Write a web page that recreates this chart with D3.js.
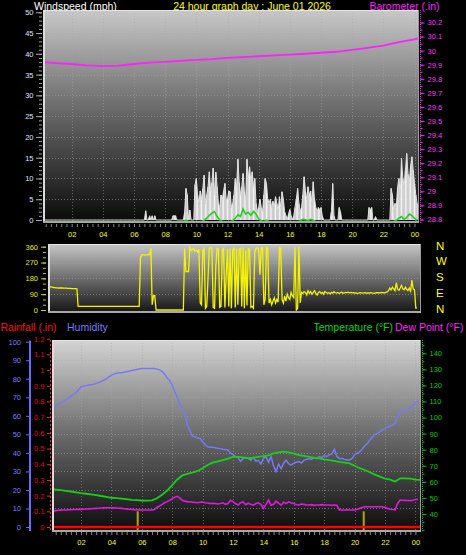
<!DOCTYPE html>
<html><head><meta charset="utf-8">
<script src="https://cdn.jsdelivr.net/npm/d3@7"></script>
<style>
html,body{margin:0;padding:0;background:#000;}
svg{display:block;}
</style></head><body>
<svg id="chart" width="466" height="555"></svg>
<script>
// ---------------- DATA ----------------
const hourTicks  = [2,4,6,8,10,12,14,16,18,20,22,24];
const hourLabels = ["02","04","06","08","10","12","14","16","18","20","22","00"];
const compassDeg = [0,90,180,270,360];
const compassLabels = ["N","E","S","W","N"];

// Barometer (in) read at hours
const baroHours  = [0,1,2,3,4,5,6,7,8,9,10,11,12,13,14,15,16,17,18,19,20,21,22,23,24,24.3];
const baroValues = [29.92,29.912,29.905,29.895,29.89,29.893,29.905,29.915,29.92,29.928,29.935,29.94,29.948,29.954,29.96,29.966,29.972,29.978,29.985,29.992,30.005,30.02,30.035,30.06,30.08,30.09];

// Wind gust (mph), one row per hour, 5-minute samples
const gustRows = [
 [0,0,0,0,0,0,0,0,0,0,0,0],
 [0,0,0,0,0,0,0,0,0,0,0,0],
 [0,0,0,0,0,0,0,0,0,0,0,0],
 [0,0,0,0,0,0,0,0,0,0,0,0],
 [0,0,0,0,0,0,0,0,0,0,0,0],
 [0,0,0,0,0,0,0,0,0,0,0,0],
 [0,0,0,0,0,0,0,0,0,2.2,0,0],
 [1,0,1,0,1,0,0,0,0,0,0,0],
 [0,0,0,0,0,0,1,1,1,0,0,0],
 [0,0,0,2,7.6,6,0,2.4,0,0,0,8.5],
 [10,6,4,7,5,7.6,10.8,4,6,8,11.6,7],
 [9,12.5,6,11.5,8,4,3,6,5,7,8.8,5],
 [5,7,6.8,3,4,6,10,8,14.6,9,6,8],
 [11.2,7,5,14.6,10,12.8,9,11.6,8,10,4,2],
 [3,5,3,2,6,10,8.8,5,4,5,3,4.5],
 [3,5.6,4,2,5.6,3,6.8,5,2,1,0,1.5],
 [2.5,1,0,1,3,5,7.6,4,2,3,6,10.4],
 [7,5,8,6,7,4,9.2,5,3,2,3,2.5],
 [3,1,0,0,0,0,0,0,2,8.8,1,0],
 [0,0,3,2,0,0,0,0,0,0,0,0],
 [0,0,0,0,0,0,0,0,0,0,0,0],
 [0,3,2.5,3,0,0,0.8,0,0,0,0,0],
 [0,0,0,0,0,0,7.6,6,2,4,3,8],
 [10,6,14.8,10,8,12,16,11,9,13,15.2,12],
 [9,6,4,0]
];
// Average wind speed (mph), one row per hour, 10-minute samples
const avgRows = [
 [0,0,0,0,0,0],[0,0,0,0,0,0],[0,0,0,0,0,0],[0,0,0,0,0,0],[0,0,0,0,0,0],
 [0,0,0,0,0,0],[0,0,0,0,0,0],[0,0,0,0,0,0],[0,0,0,0,0,0],
 [0,0,0.3,0,0,0],
 [0,0,0,0.3,0.8,1.5],
 [2,2.4,1.2,0.4,0,0],
 [0,0,0.2,0.8,1.6,1.2],
 [3,1.8,2.2,1.5,2.4,1.8],
 [0.6,0.2,0,0.3,0,0],
 [0,0,0,0,0,0],
 [0,0,0,0,0.2,0.5],
 [0.4,0.2,0.5,0.3,0,0],
 [0,0,0,0,0,0],[0,0,0,0,0,0],[0,0,0,0,0,0],[0,0,0,0,0,0],
 [0,0,0,0,0,0.3],
 [0.8,1.2,0.5,1.0,1.8,1.4],
 [0.8,0.3]
];
// Wind direction (deg), one row per hour, 5-minute samples
const dirRows = [
 [134,134,134,134,134,134,134,132,131,130,128,127],
 [126,126,125,125,125,125,124,124,124,123,123,123],
 [122,122,121,121,120,21,21,21,21,21,21,21],
 [21,21,21,21,21,21,21,21,21,21,21,21],
 [21,21,21,21,21,21,21,21,21,21,21,21],
 [21,21,21,21,21,21,21,21,21,21,21,21],
 [21,21,21,21,21,300,313,313,313,313,313,315],
 [315,351,30,81,81,0,0,0,0,0,0,0],
 [0,0,0,0,0,0,0,0,0,0,0,0],
 [0,0,0,350,219,219,219,355,340,345,350,335],
 [340,330,345,40,30,340,350,10,20,180,350,355],
 [350,15,10,250,350,345,15,20,340,350,15,200],
 [345,20,350,10,340,355,15,350,30,345,350,20],
 [355,10,340,25,350,345,15,20,10,330,350,355],
 [345,200,350,355,30,60,355,350,40,60,30,50],
 [70,40,60,45,355,350,60,40,80,50,90,70],
 [60,100,80,70,355,0,10,360,40,100,95,105],
 [100,85,110,95,105,90,100,110,95,85,100,105],
 [95,100,90,105,100,95,98,92,100,96,104,98],
 [96,100,94,98,102,95,97,100,99,101,98,100],
 [97,98,96,97,95,96,98,97,96,97,98,96],
 [97,96,98,97,96,95,97,98,99,97,98,100],
 [98,97,100,103,110,125,115,130,120,110,155,118],
 [112,125,140,120,115,130,118,110,125,108,170,120],
 [115,11,11]
];
// Humidity (%), one row per hour, 10-minute samples
const humRows = [
 [63.6,64.5,65.5,66.3,67,67.8],
 [68.5,69.5,70.5,71.5,72.5,74],
 [75.7,76,76.3,76.6,76.8,77],
 [77.5,78,78.5,79.2,80,81],
 [82,82.5,83,83.2,83.3,83.5],
 [83.8,84.1,84.4,84.7,85,85.3],
 [85.6,85.6,85.6,85.6,85.6,85.6],
 [85.2,84.8,84,82.5,80.5,79],
 [76.5,73,70,66.7,63,61],
 [55.5,52,49,48.7,48,47.9],
 [46,44.5,43.3,43,43,42.8],
 [42.5,42.3,42,41.8,41.6,40],
 [39,38,37.5,35.5,37,37.5],
 [37.1,36,37.5,35.5,36,34],
 [37,38,35,38,33,30],
 [34,31.5,34.4,36,34,33.5],
 [34.4,35,35.3,34.5,36,36.5],
 [37,36.5,37.5,37,38,37.5],
 [38.5,38,38.9,39.5,42,38],
 [37,37,36.5,36.2,36.2,37],
 [39,39.8,40.5,42,44,45],
 [47,48.5,50,50.5,51.5,52.5],
 [53.2,54,54.5,55,56,59.5],
 [62,62.5,63,63.5,64,65.5],
 [67.3,67.7]
];
// Temperature (F), one row per hour, 20-minute samples
const tempRows = [
 [55.6,55.2,54.8],[54.4,54,53.5],[53,52.6,52.2],[51.8,51.2,50.7],[50.1,49.9,49.6],
 [49.2,48.8,48.6],[48.4,48.3,48.5],[49.8,52,54.5],[58,61.5,64],[65,65.8,66.8],
 [68.5,70.5,72],[72.7,73.5,74.5],[75.5,75.5,75.2],[74.7,75,75.5],[76,76.5,77.8],
 [78.3,78.8,78.4],[77.5,76.7,76.2],[75.5,75,74.6],[74,73.5,73.1],[72.5,72,71.5],
 [70,68.5,67.4],[66,64.5,63.3],[62,61.4,60.2],[62.2,62.2,62],[61.4,61.2]
];
// Dew point (F), one row per hour, 10-minute samples
const dewRows = [
 [42,42.1,42.1,42.3,42.4,42.5],
 [42.5,42.6,42.6,42.8,42.8,42.9],
 [42.9,43,43.1,43.2,43.3,43.4],
 [43.5,43.6,43.7,43.8,43.9,43.9],
 [43.9,43.8,43.7,43.6,43.5,43.3],
 [43.2,43,42.9,42.7,42.6,42.5],
 [42.5,42.5,42.5,42.5,42.5,42.8],
 [44.2,45,46,47,47.7,48.5],
 [49.5,50.5,51,50,48.5,48],
 [47.7,47.5,47.4,47.2,47,47.3],
 [47.5,47,46.8,46.5,46.7,46.5],
 [46.2,46.5,47,46,46.5,48.5],
 [47.7,46.5,45.6,47,47.5,45.8],
 [46.7,46,45.5,46.5,47,46],
 [43.5,46,48.7,45.5,46,48],
 [46.7,45.5,47.5,46.5,47.7,46.8],
 [46.5,45.8,45.6,46.2,46,45.6],
 [45.6,45.8,45.4,45.6,45.6,45.8],
 [45.6,45.6,45.6,45.4,45.6,45.5],
 [42.5,42.5,42.5,42.6,42.5,42.5],
 [42.5,43,43.5,44,44.5,44.5],
 [44.5,44.5,44.5,44.5,44.5,44.5],
 [44,43.5,43,42.8,42.6,46.7],
 [48.7,48.6,48.5,48.4,48.3,48.6],
 [49,49.2]
];
// Rainfall (in)
const rainHours  = [0,24.4];
const rainValues = [0,0];
// sunrise / sunset markers (hours)
const sunEvents = [5.73, 20.6];
const sunMarkLevel = 0.1;

// ---------------- HELPERS ----------------
function flatten(rows, perHour){ const out=[]; rows.forEach((r,h)=>r.forEach((v,k)=>out.push({t:h+k/perHour,v:v}))); return out; }
const gust = flatten(gustRows,12), avg = flatten(avgRows,6), dir = flatten(dirRows,12);
const hum = flatten(humRows,6), temp = flatten(tempRows,3), dew = flatten(dewRows,6);
const baro = baroHours.map((t,i)=>({t:t,v:baroValues[i]}));
const rain = rainHours.map((t,i)=>({t:t,v:rainValues[i]}));

const FONT = "'Liberation Sans', Arial, sans-serif";
const svg = d3.select("#chart");
const defs = svg.append("defs");

const P1 = {x0:43, x1:419, y0:10, y1:222};
const P2 = {x0:48, x1:421, y0:244, y1:312};
const P3 = {x0:52, x1:421, y0:340, y1:531};

const xTop = d3.scaleLinear().domain([0,24]).range([40.5,414.5]);
const xBot = d3.scaleLinear().domain([0,24]).range([50.6,415.4]);
const yWind = d3.scaleLinear().domain([0,50]).range([220,12.3]);
const yBaro = d3.scaleLinear().domain([28.8,30.2]).range([219.5,22.5]);
const yDir  = d3.scaleLinear().domain([0,360]).range([310,246.7]);
const yHum  = d3.scaleLinear().domain([0,100]).range([527,341.7]);
const yRain = d3.scaleLinear().domain([0,1.2]).range([527,338.7]);
const yTemp = d3.scaleLinear().domain([40,140]).range([514,353.3]);

function grad(id, stops){
  const g = defs.append("linearGradient").attr("id",id).attr("x1",0).attr("y1",0).attr("x2",0).attr("y2",1);
  stops.forEach(s=>g.append("stop").attr("offset",s[0]).attr("stop-color",s[1]));
}
grad("gTop",[[0,"#c8c8c8"],[0.5,"#646464"],[1,"#0a0a0a"]]);
grad("gMid",[[0,"#c6c6c6"],[1,"#161616"]]);
grad("gBot",[[0,"#d4d4d4"],[0.5,"#6a6a6a"],[1,"#0c0c0c"]]);

function panel(id,p,g){
  defs.append("clipPath").attr("id",id).append("rect")
    .attr("x",p.x0).attr("y",p.y0).attr("width",p.x1-p.x0).attr("height",p.y1-p.y0);
  svg.append("rect").attr("x",p.x0).attr("y",p.y0).attr("width",p.x1-p.x0).attr("height",p.y1-p.y0)
    .attr("fill",`url(#${g})`);
  return svg.append("g").attr("clip-path",`url(#${id})`);
}
function frame(p){
  svg.append("line").attr("x1",p.x0).attr("x2",p.x1).attr("y1",p.y0+0.5).attr("y2",p.y0+0.5).attr("stroke","#e6e6e6");
  svg.append("line").attr("x1",p.x1-0.5).attr("x2",p.x1-0.5).attr("y1",p.y0).attr("y2",p.y1).attr("stroke","#9a9a9a");
  svg.append("line").attr("x1",p.x0+1).attr("x2",p.x0+1).attr("y1",p.y0).attr("y2",p.y1+1).attr("stroke","#dcdcdc").attr("stroke-width",2);
  svg.append("line").attr("x1",p.x0).attr("x2",p.x1).attr("y1",p.y1).attr("y2",p.y1).attr("stroke","#a8a8a8").attr("stroke-width",2);
}
function hgrid(g,p,vals,sc){
  g.selectAll(null).data(vals).join("line").attr("x1",p.x0).attr("x2",p.x1)
   .attr("y1",d=>Math.round(sc(d))+0.5).attr("y2",d=>Math.round(sc(d))+0.5)
   .attr("stroke","#a8a8a8").attr("stroke-opacity",0.55).attr("stroke-dasharray","1,2");
}
function vgrid(g,p,vals,sc){
  g.selectAll(null).data(vals).join("line").attr("y1",p.y0).attr("y2",p.y1)
   .attr("x1",d=>Math.round(sc(d))+0.5).attr("x2",d=>Math.round(sc(d))+0.5)
   .attr("stroke","#a8a8a8").attr("stroke-opacity",0.5).attr("stroke-dasharray","1,2");
}
function styleAxis(g,textColor,lineColor,fs){
  g.attr("font-family",FONT).attr("font-size",fs);
  g.selectAll("text").attr("fill",textColor);
  g.selectAll("line").attr("stroke",lineColor);
  g.select(".domain").remove();
  return g;
}
function txt(x,y,s,color,size,anchor){
  svg.append("text").attr("x",x).attr("y",y).text(s).attr("fill",color)
    .attr("font-family",FONT).attr("font-size",size).attr("text-anchor",anchor||"start");
}

// ---------------- TITLES ----------------
txt(34,9.5,"Windspeed (mph)","#ffffff",10.5);
txt(252,9.5,"24 hour graph day : June 01 2026","#ffff00",10.5,"middle");
txt(439.5,9.5,"Barometer (.in)","#ff22ff",10.5,"end");
txt(0.5,331,"Rainfall (.in)","#ff1010",10.5);
txt(67,331,"Humidity","#7878ff",10.5);
txt(393,331,"Temperature (°F)","#00dd00",10.5,"end");
txt(395,331,"Dew Point (°F)","#ff22ff",10.5);

// ---------------- TOP PANEL ----------------
const g1 = panel("c1",P1,"gTop");
hgrid(g1,P1,d3.range(5,50,5),yWind);
vgrid(g1,P1,hourTicks,xTop);

g1.append("path").datum(gust)
  .attr("d",d3.area().x(d=>xTop(d.t)).y0(yWind(0)).y1(d=>yWind(d.v)))
  .attr("fill","#b4b4b4").attr("fill-opacity",0.7);
g1.selectAll(null).data(gust.filter(d=>d.v>0)).join("line")
  .attr("x1",d=>xTop(d.t)).attr("x2",d=>xTop(d.t))
  .attr("y1",yWind(0)).attr("y2",d=>yWind(d.v))
  .attr("stroke","#f2f2f2").attr("stroke-width",1.1);
g1.append("path").datum(gust)
  .attr("d",d3.line().x(d=>xTop(d.t)).y(d=>yWind(d.v)))
  .attr("fill","none").attr("stroke","#e0e0e0").attr("stroke-width",1);
g1.append("path").datum(avg)
  .attr("d",d3.line().x(d=>xTop(d.t)).y(d=>yWind(d.v)+1.5))
  .attr("fill","none").attr("stroke","#20d020").attr("stroke-width",1.6);
g1.append("path").datum(baro)
  .attr("d",d3.line().x(d=>xTop(d.t)).y(d=>yBaro(d.v)))
  .attr("fill","none").attr("stroke","#ff20ff").attr("stroke-width",1.8);
frame(P1);

// axes top
styleAxis(svg.append("g").attr("transform",`translate(${P1.x0-1},0)`)
  .call(d3.axisLeft(yWind).tickValues(d3.range(0,51,1)).tickSize(3).tickFormat("")),"#fff","#9a9a9a",7.5);
styleAxis(svg.append("g").attr("transform",`translate(${P1.x0-1},0)`)
  .call(d3.axisLeft(yWind).tickValues(d3.range(0,51,5)).tickSize(6).tickPadding(2.5)),"#dde8ff","#a8a8a8",7.5);
svg.append("line").attr("x1",P1.x1+1.5).attr("x2",P1.x1+1.5).attr("y1",P1.y0).attr("y2",P1.y1+2)
  .attr("stroke","#ff20ff").attr("stroke-dasharray","1,1");
styleAxis(svg.append("g").attr("transform",`translate(${P1.x1+1.5},0)`)
  .call(d3.axisRight(yBaro).tickValues(d3.range(0,29).map(i=>28.8+i*0.05)).tickSize(2).tickFormat("")),"#f2f","#ff20ff",7.5);
styleAxis(svg.append("g").attr("transform",`translate(${P1.x1+1.5},0)`)
  .call(d3.axisRight(yBaro).tickValues(d3.range(0,15).map(i=>28.8+i*0.1)).tickSize(4).tickPadding(3)
  .tickFormat(d=>String(+d.toFixed(1)))),"#ff33ff","#ff20ff",7.5);
styleAxis(svg.append("g").attr("transform",`translate(0,${P1.y1+2})`)
  .call(d3.axisBottom(xTop).tickValues(d3.range(1,73).map(i=>i/3)).tickSize(3).tickFormat("")),"#ff0","#8a8a8a",7.5);
styleAxis(svg.append("g").attr("transform",`translate(0,${P1.y1+2})`)
  .call(d3.axisBottom(xTop).tickValues(hourTicks).tickSize(0).tickPadding(7.5).tickFormat((d,i)=>hourLabels[i])),"#ffff00","#8a8a8a",7.5);

// ---------------- MIDDLE PANEL ----------------
const g2 = panel("c2",P2,"gMid");
hgrid(g2,P2,[90,180,270],yDir);
g2.append("path").datum(dir)
  .attr("d",d3.line().x(d=>xTop(d.t)).y(d=>yDir(d.v)))
  .attr("fill","none").attr("stroke","#f4f400").attr("stroke-width",1.3);
frame(P2);
styleAxis(svg.append("g").attr("transform",`translate(${P2.x0-2},0)`)
  .call(d3.axisLeft(yDir).tickValues(d3.range(0,361,30)).tickSize(3).tickFormat("")),"#ff0","#c8c800",7.5);
styleAxis(svg.append("g").attr("transform",`translate(${P2.x0-2},0)`)
  .call(d3.axisLeft(yDir).tickValues(compassDeg).tickSize(5).tickPadding(3)),"#e8e800","#d0d000",7.5);
styleAxis(svg.append("g").attr("transform",`translate(${P2.x1},0)`)
  .call(d3.axisRight(yDir).tickValues(compassDeg).tickSize(0).tickPadding(15).tickFormat((d,i)=>compassLabels[i])),"#ffff00","#000",11.5)
  .selectAll("text").attr("dy","0.2em");

// ---------------- BOTTOM PANEL ----------------
const g3 = panel("c3",P3,"gBot");
hgrid(g3,P3,d3.range(10,100,10),yHum);
vgrid(g3,P3,hourTicks,xBot);
g3.append("path").datum(hum)
  .attr("d",d3.line().x(d=>xBot(d.t)).y(d=>yHum(d.v)))
  .attr("fill","none").attr("stroke","#7878f6").attr("stroke-width",1.5);
g3.append("path").datum(temp)
  .attr("d",d3.line().x(d=>xBot(d.t)).y(d=>yTemp(d.v)))
  .attr("fill","none").attr("stroke","#18d018").attr("stroke-width",1.8);
g3.append("path").datum(dew)
  .attr("d",d3.line().x(d=>xBot(d.t)).y(d=>yTemp(d.v)))
  .attr("fill","none").attr("stroke","#e018e0").attr("stroke-width",1.6);
g3.selectAll(null).data(sunEvents).join("line")
  .attr("x1",d=>xBot(d)).attr("x2",d=>xBot(d))
  .attr("y1",yRain(sunMarkLevel)).attr("y2",P3.y1)
  .attr("stroke","#b0a800").attr("stroke-width",2);
g3.append("path").datum(rain)
  .attr("d",d3.line().x(d=>xBot(d.t)).y(d=>yRain(d.v)))
  .attr("fill","none").attr("stroke","#ff0000").attr("stroke-width",2.6);
frame(P3);

// humidity axis (blue)
svg.append("line").attr("x1",30).attr("x2",30).attr("y1",yHum(100)-1).attr("y2",P3.y1)
  .attr("stroke","#6a6aff").attr("stroke-width",2);
styleAxis(svg.append("g").attr("transform","translate(29,0)")
  .call(d3.axisLeft(yHum).tickValues(d3.range(0,101,10)).tickSize(3).tickPadding(5)),"#7a7aff","#6a6aff",7.5);
// rain axis (red)
svg.append("line").attr("x1",50.5).attr("x2",50.5).attr("y1",P3.y0).attr("y2",P3.y1)
  .attr("stroke","#ff2020").attr("stroke-dasharray","2,2");
styleAxis(svg.append("g").attr("transform","translate(50,0)")
  .call(d3.axisLeft(yRain).tickValues(d3.range(0,13).map(i=>i/10)).tickSize(3).tickPadding(2.5)
  .tickFormat(d=>String(+d.toFixed(1)))),"#ee0000","#ff2020",7.5);
// temperature axis (green)
svg.append("line").attr("x1",P3.x1+1.5).attr("x2",P3.x1+1.5).attr("y1",P3.y0).attr("y2",P3.y1)
  .attr("stroke","#00c000").attr("stroke-dasharray","1,1");
styleAxis(svg.append("g").attr("transform",`translate(${P3.x1+1.5},0)`)
  .call(d3.axisRight(yTemp).tickValues(d3.range(30,146,5)).tickSize(2).tickFormat("")),"#0c0","#00c000",7.5);
styleAxis(svg.append("g").attr("transform",`translate(${P3.x1+1.5},0)`)
  .call(d3.axisRight(yTemp).tickValues(d3.range(40,141,10)).tickSize(4).tickPadding(3)),"#00cc00","#00c000",7.5);
// bottom time axis
styleAxis(svg.append("g").attr("transform",`translate(0,${P3.y1+1})`)
  .call(d3.axisBottom(xBot).tickValues(d3.range(1,73).map(i=>i/3)).tickSize(3).tickFormat("")),"#ff0","#8a8a8a",7.5);
styleAxis(svg.append("g").attr("transform",`translate(0,${P3.y1+1})`)
  .call(d3.axisBottom(xBot).tickValues(hourTicks).tickSize(0).tickPadding(7.5).tickFormat((d,i)=>hourLabels[i])),"#ffff00","#8a8a8a",7.5);
</script>
</body></html>
